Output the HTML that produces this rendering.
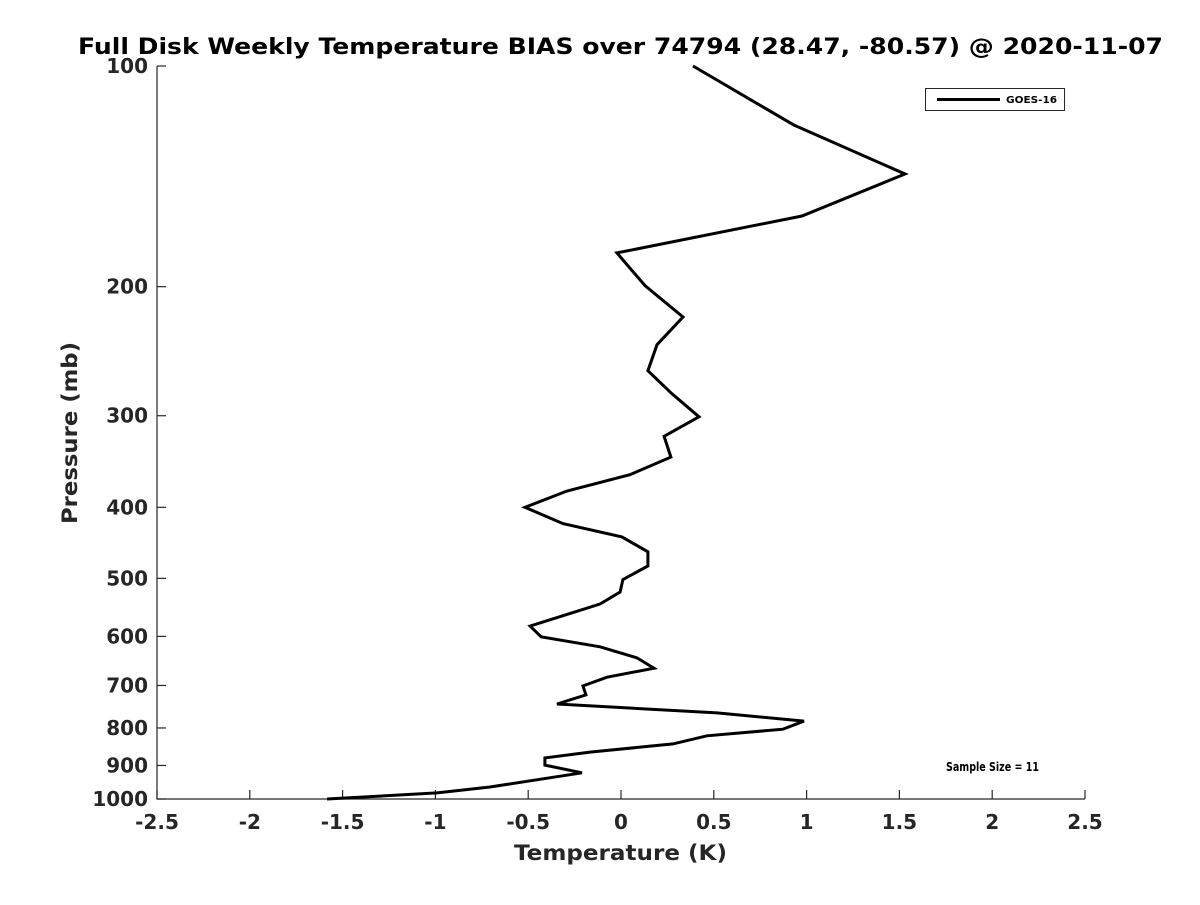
<!DOCTYPE html>
<html><head><meta charset="utf-8"><style>
body{margin:0;background:#fff}
svg text{font-family:"DejaVu Sans","Liberation Sans",sans-serif;font-weight:bold;fill:#262626}
</style></head><body>
<svg width="1200" height="900" xmlns="http://www.w3.org/2000/svg">
<g id="axes"></g>
<g id="series"></g>
<text x="78" y="54" font-size="22" textLength="1085" lengthAdjust="spacingAndGlyphs" style="fill:#000">Full Disk Weekly Temperature BIAS over 74794 (28.47, -80.57) @ 2020-11-07</text>
<text x="514" y="860" font-size="21" textLength="213" lengthAdjust="spacingAndGlyphs">Temperature (K)</text>
<text transform="translate(77,524) rotate(-90)" font-size="21" textLength="182" lengthAdjust="spacingAndGlyphs">Pressure (mb)</text>
<g>
<rect x="925.5" y="88.5" width="139" height="22" fill="#fff" stroke="#262626" stroke-width="1"/>
<line x1="937" y1="99.5" x2="1000" y2="99.5" stroke="#000" stroke-width="3"/>
<text x="1006" y="103" font-size="10" textLength="51" lengthAdjust="spacingAndGlyphs" style="fill:#000">GOES-16</text>
</g>
<text x="946" y="771" font-size="12" textLength="93" lengthAdjust="spacingAndGlyphs" style="fill:#000">Sample Size = 11</text>
</svg>
<script>
const pressures=[100,120.4,140.4,160.2,179.9,199.3,220,240,260.4,280,301,320,341.6,361,380,400,421,439,460,481,502,522,542,581,601,620,642,663,682,701,721,742,763,783,803,820,841,863,879,899,921,963,981,1000];
const temps=[0.388,0.932,1.53,0.975,-0.022,0.129,0.334,0.194,0.145,0.275,0.42,0.232,0.269,0.048,-0.291,-0.517,-0.313,0.005,0.145,0.145,0.01,-0.005,-0.113,-0.49,-0.43,-0.113,0.086,0.178,-0.075,-0.205,-0.189,-0.345,0.517,0.986,0.873,0.463,0.28,-0.167,-0.41,-0.41,-0.21,-0.706,-0.991,-1.584];
const xTicks=[-2.5,-2,-1.5,-1,-0.5,0,0.5,1,1.5,2,2.5];
const xTickLabels=["-2.5","-2","-1.5","-1","-0.5","0","0.5","1","1.5","2","2.5"];
const yTicks=[100,200,300,400,500,600,700,800,900,1000];
const yTickLabels=["100","200","300","400","500","600","700","800","900","1000"];
const NS="http://www.w3.org/2000/svg";
const L=157,R=1085,T=66,B=799;
function xs(v){return L+(v+2.5)/5*(R-L);}
function ys(p){return T+(Math.log10(p)-2)*(B-T);}
const ax=document.getElementById('axes');
function mk(tag,attrs,parent){const e=document.createElementNS(NS,tag);for(const k in attrs)e.setAttribute(k,attrs[k]);parent.appendChild(e);return e;}
let e=mk('line',{x1:L,y1:T,x2:L,y2:B+0.5,stroke:'#262626','stroke-width':1.2},ax);


e=mk('line',{x1:L,y1:B,x2:R,y2:B,stroke:'#262626','stroke-width':1.2},ax);


xTicks.forEach((v,i)=>{const x=xs(v);
let t=mk('line',{x1:x,y1:B,x2:x,y2:B-9,stroke:'#262626','stroke-width':1.2},ax);


let l=mk('text',{x:x,y:B+30,'font-size':20,'text-anchor':'middle'},ax);l.textContent=xTickLabels[i];

});
yTicks.forEach((v,i)=>{const y=ys(v);
let t=mk('line',{x1:L,y1:y,x2:L+9,y2:y,stroke:'#262626','stroke-width':1.2},ax);


let l=mk('text',{x:L-9,y:y+7,'font-size':20,'text-anchor':'end'},ax);l.textContent=yTickLabels[i];

});
const pts=temps.map((t,i)=>xs(t).toFixed(1)+','+ys(pressures[i]).toFixed(1)).join(' ');
const pl=mk('polyline',{points:pts,fill:'none',stroke:'#000','stroke-width':3,'stroke-linejoin':'miter'},document.getElementById('series'));


</script>
</body></html>
